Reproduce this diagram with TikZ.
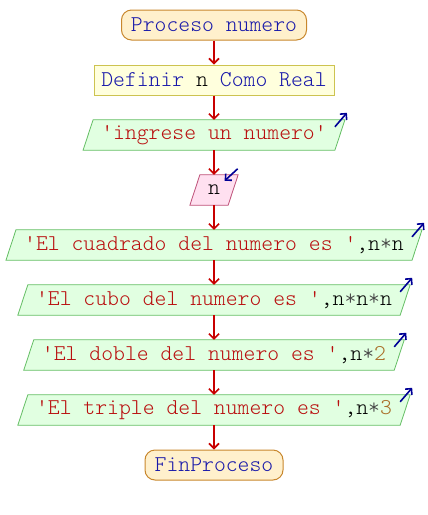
\documentclass[tikz,border=0pt]{standalone}
\usepackage{fontspec}
\newfontfamily\pmono{lmmonolt10-regular.otf}
\usetikzlibrary{arrows.meta,backgrounds}
\definecolor{kw}{RGB}{25,25,170}
\definecolor{str}{RGB}{185,15,15}
\definecolor{num}{RGB}{170,110,40}
\definecolor{op}{RGB}{70,70,70}
\definecolor{termf}{RGB}{255,240,204}
\definecolor{termd}{RGB}{200,135,45}
\definecolor{deff}{RGB}{255,255,221}
\definecolor{defd}{RGB}{205,195,80}
\definecolor{iof}{RGB}{225,255,225}
\definecolor{iod}{RGB}{100,190,100}
\definecolor{inf}{RGB}{255,224,240}
\definecolor{ind}{RGB}{190,80,120}
\definecolor{flowc}{RGB}{200,0,0}
\definecolor{ioarrow}{RGB}{0,0,150}
\tikzset{
  txt/.style={font=\fontsize{22.6pt}{24pt}\pmono},
  term/.style={txt, draw=termd, fill=termf, rounded corners=10pt, minimum height=30pt, inner sep=0pt, line width=1pt},
  defbox/.style={txt, draw=defd, fill=deff, minimum height=30pt, inner sep=0pt, line width=1pt},
  iotext/.style={txt, minimum height=30pt, inner xsep=13pt, inner ysep=0pt},
  flow/.style={draw=flowc, line width=1.6pt, -{Straight Barb[length=5pt,width=10pt,line width=1.6pt]}},
  ioarr/.style={draw=ioarrow, line width=1.6pt, -{Straight Barb[length=4.5pt,width=9pt,line width=1.6pt]}},
  para/.style={line width=0.8pt}
}
\newcommand{\sq}{\textquotesingle}
\begin{document}
\begin{tikzpicture}[x=1pt,y=-1pt]
\useasboundingbox (0,0) rectangle (428,515);
\node[term, minimum width=185pt] (start) at (214,25) {\textcolor{kw}{Proceso numero}};
\node[defbox, minimum width=240pt] (def) at (214,80) {\textcolor{kw}{Definir} n \textcolor{kw}{Como Real}};
\node[iotext] (ing) at (214,135) {\textcolor{str}{\sq ingrese un numero\sq}};
\node[iotext] (rd) at (214,190) {n};
\node[iotext] (cua) at (214,245) {\textcolor{str}{\sq El cuadrado del numero es \sq},n\textcolor{op}{*}n};
\node[iotext] (cub) at (214,300) {\textcolor{str}{\sq El cubo del numero es \sq},n\textcolor{op}{*}n\textcolor{op}{*}n};
\node[iotext] (dob) at (214,355) {\textcolor{str}{\sq El doble del numero es \sq},n\textcolor{op}{*}\textcolor{num}{2}};
\node[iotext] (tri) at (214,410) {\textcolor{str}{\sq El triple del numero es \sq},n\textcolor{op}{*}\textcolor{num}{3}};
\node[term, minimum width=138pt] (fin) at (214,465) {\textcolor{kw}{FinProceso}};
\begin{scope}[on background layer]
\foreach \p/\f/\d in {ing/iof/iod, rd/inf/ind, cua/iof/iod, cub/iof/iod, dob/iof/iod, tri/iof/iod}{
  \draw[para, fill=\f, draw=\d] ([xshift=5pt]\p.north west) -- ([xshift=5pt]\p.north east) -- ([xshift=-5pt]\p.south east) -- ([xshift=-5pt]\p.south west) -- cycle;
}
\end{scope}
\draw[flow] (start.south) -- (def.north);
\draw[flow] (def.south) -- (ing.north);
\draw[flow] (ing.south) -- (rd.north);
\draw[flow] (rd.south) -- (cua.north);
\draw[flow] (cua.south) -- (cub.north);
\draw[flow] (cub.south) -- (dob.north);
\draw[flow] (dob.south) -- (tri.north);
\draw[flow] (tri.south) -- (fin.north);
\foreach \p in {ing,cua,cub,dob,tri}{
  \draw[ioarr] ([xshift=-5pt,yshift=-7pt]\p.north east) -- ([xshift=7pt,yshift=7pt]\p.north east);
}
\draw[ioarr] ([xshift=4.5pt,yshift=6pt]rd.north east) -- ([xshift=-8.5pt,yshift=-6pt]rd.north east);
\end{tikzpicture}
\end{document}
